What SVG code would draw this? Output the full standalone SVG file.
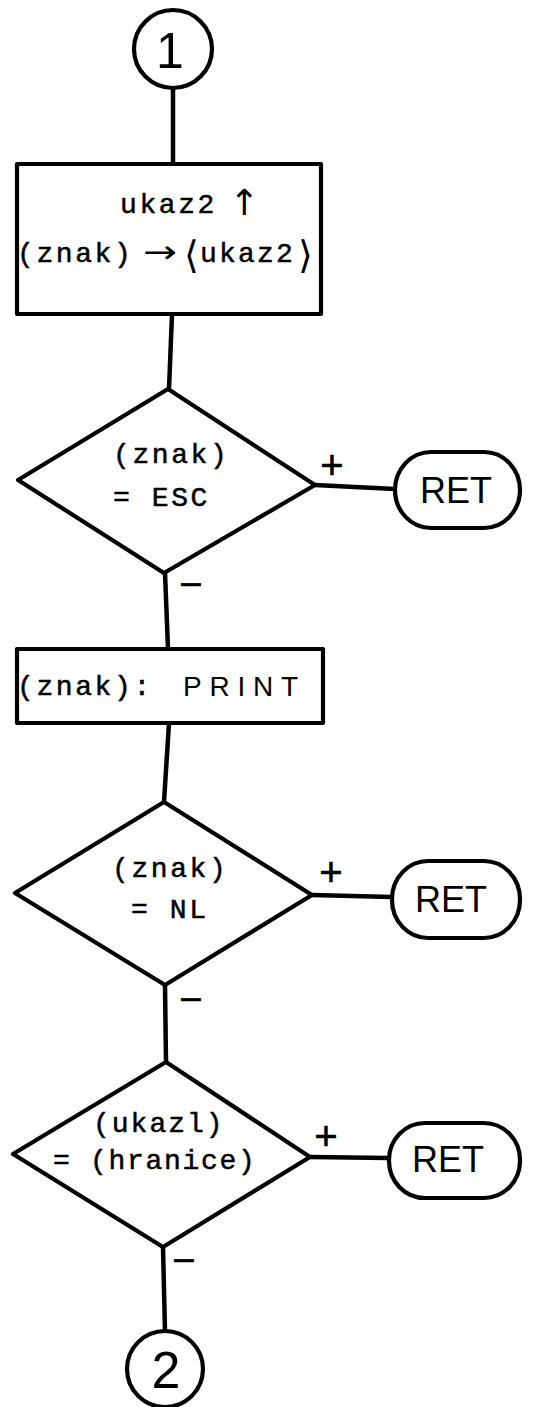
<svg xmlns="http://www.w3.org/2000/svg" width="533" height="1407" viewBox="0 0 533 1407">
  <style>
    .shape { fill: #fff; stroke: #000; stroke-width: 4.2; stroke-linejoin: round; }
    .wire { fill: none; stroke: #000; stroke-width: 4.5; stroke-linecap: butt; }
    .mono { font-family: "Liberation Mono", "DejaVu Sans Mono", monospace; font-size: 28px; letter-spacing: 2.6px; fill: #000; stroke: #000; stroke-width: 0.5px; }
    .sym { font-family: "DejaVu Sans", sans-serif; fill: #000; }
    .sans { font-family: "Liberation Sans", Arial, sans-serif; fill: #000; }
    .big { font-size: 36px; }
    .sign { font-family: "Liberation Sans", Arial, sans-serif; font-size: 40px; fill: #000; text-anchor: middle; stroke: #000; stroke-width: 0.6px; }
  </style>

  <!-- connectors -->
  <g id="connectors">
    <line class="wire" x1="173" y1="88" x2="173" y2="164"/>
    <line class="wire" x1="172" y1="314" x2="169" y2="389"/>
    <line class="wire" x1="315" y1="485" x2="395" y2="489"/>
    <line class="wire" x1="165" y1="573" x2="168" y2="649"/>
    <line class="wire" x1="169" y1="723" x2="164" y2="802"/>
    <line class="wire" x1="312" y1="895" x2="392" y2="897"/>
    <line class="wire" x1="165" y1="985" x2="166" y2="1062"/>
    <line class="wire" x1="310" y1="1157" x2="389" y2="1158"/>
    <line class="wire" x1="163" y1="1247" x2="165" y2="1331"/>
    <!-- branch labels -->
    <text class="sign" x="332" y="479">+</text>
    <text class="sign" x="331" y="886">+</text>
    <text class="sign" x="326" y="1150">+</text>
    <text class="sign" x="191" y="598">−</text>
    <text class="sign" x="191" y="1013">−</text>
    <text class="sign" x="184" y="1274">−</text>
  </g>

  <!-- connector 1 -->
  <g id="start">
    <circle class="shape" cx="173" cy="49" r="39"/>
    <text class="sans" x="170" y="68" font-size="50" text-anchor="middle">1</text>
  </g>

  <!-- advance pointer and store character -->
  <g id="store">
    <rect class="shape" x="17" y="164" width="304" height="150"/>
    <text class="mono" x="120" y="213">ukaz2</text>
    <text class="sym" x="229" y="215" font-size="36">↑</text>
    <text class="mono" x="17" y="262">(znak)</text>
    <text class="sym" x="143" y="263" font-size="32" textLength="34" lengthAdjust="spacingAndGlyphs">→</text>
    <text class="sym" x="184" y="268" font-size="38">⟨</text>
    <text class="mono" x="200" y="262" style="letter-spacing:2.2px">ukaz2</text>
    <text class="sym" x="298" y="268" font-size="38">⟩</text>
  </g>

  <!-- ESC test -->
  <g id="test-esc">
    <polygon class="shape" points="168,389 315,485 164,573 18,480"/>
    <text class="mono" x="113" y="463">(znak)</text>
    <text class="mono" x="113" y="506">= ESC</text>
  </g>
  <g id="ret-1">
    <rect class="shape" x="395" y="452" width="125" height="76" rx="36" ry="38"/>
    <text class="sans big" x="456" y="503" text-anchor="middle">RET</text>
  </g>

  <!-- print the character -->
  <g id="print">
    <rect class="shape" x="17" y="649" width="306" height="74"/>
    <text class="mono" x="17" y="695">(znak):</text>
    <text class="sans" x="183" y="696" font-size="28" textLength="115" lengthAdjust="spacing">PRINT</text>
  </g>

  <!-- newline test -->
  <g id="test-nl">
    <polygon class="shape" points="164,802 312,895 165,985 15,893"/>
    <text class="mono" x="112" y="877">(znak)</text>
    <text class="mono" x="131" y="918">= NL</text>
  </g>
  <g id="ret-2">
    <rect class="shape" x="392" y="861" width="128" height="77" rx="36" ry="38"/>
    <text class="sans big" x="451" y="912" text-anchor="middle">RET</text>
  </g>

  <!-- bound test -->
  <g id="test-bound">
    <polygon class="shape" points="166,1062 310,1157 163,1247 13,1154"/>
    <text class="mono" x="93" y="1132" style="letter-spacing:2px">(ukazl)</text>
    <text class="mono" x="53" y="1169" style="letter-spacing:1.7px">= (hranice)</text>
  </g>
  <g id="ret-3">
    <rect class="shape" x="389" y="1123" width="131" height="75" rx="36" ry="37"/>
    <text class="sans big" x="448" y="1172" text-anchor="middle">RET</text>
  </g>

  <!-- connector 2 -->
  <g id="end">
    <circle class="shape" cx="165" cy="1369" r="38"/>
    <text class="sans" x="166" y="1388" font-size="52" text-anchor="middle">2</text>
  </g>
</svg>
